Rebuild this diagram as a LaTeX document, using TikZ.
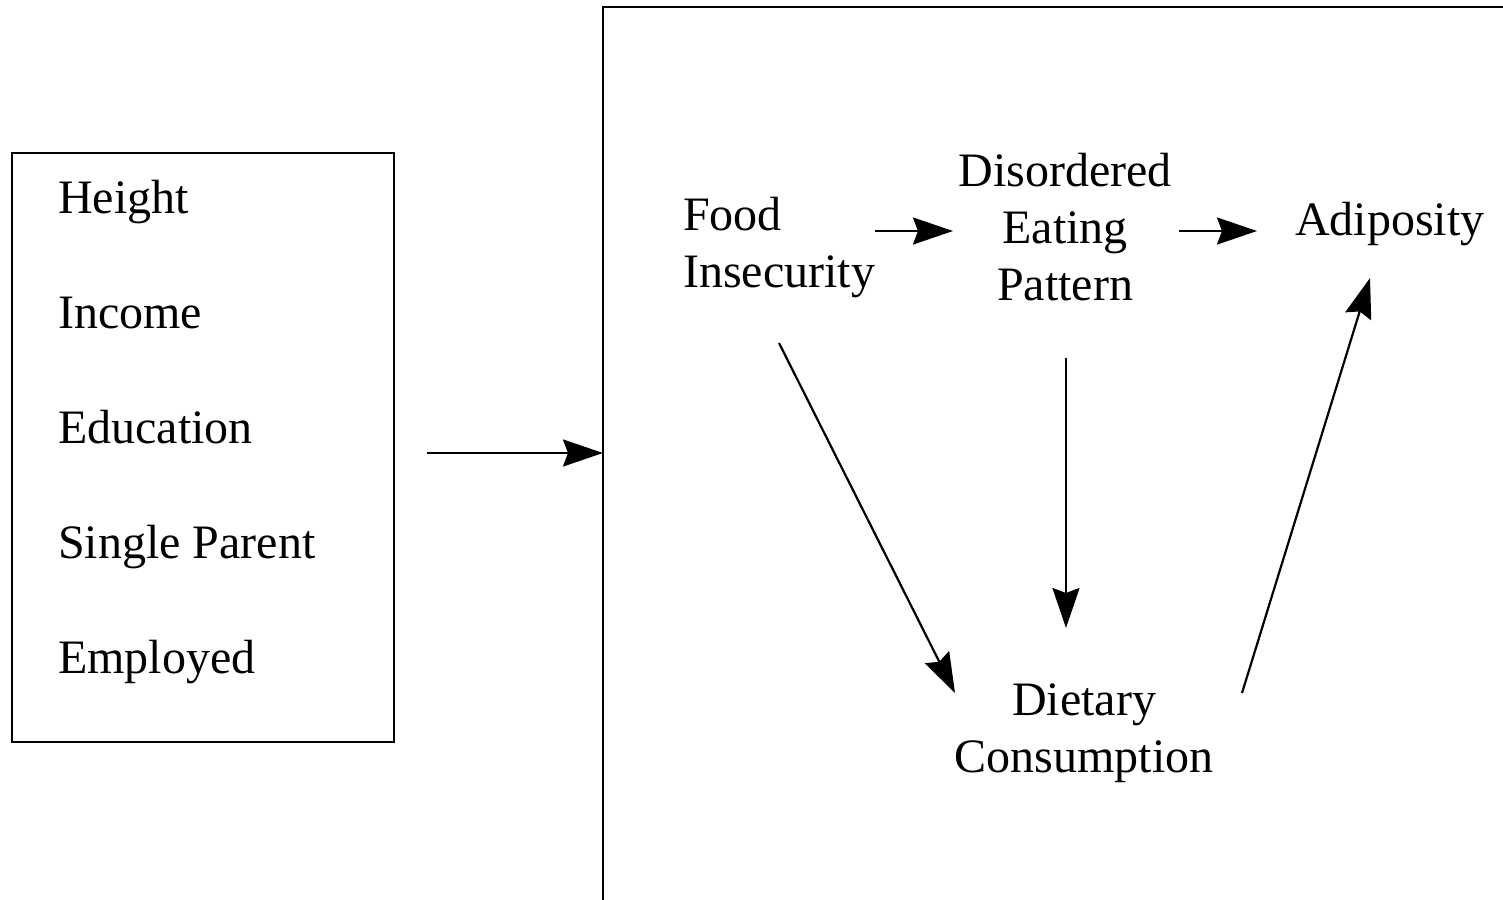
\documentclass[tikz,border=0pt]{standalone}
\usepackage{fontspec}
\setmainfont{Liberation Serif}
\usetikzlibrary{arrows.meta}
\begin{document}
\begin{tikzpicture}[x=1pt,y=-1pt,
  lbl/.style={inner sep=0pt,font=\fontsize{48}{57}\selectfont},
  multi/.style={lbl,align=center},
  arr/.style={line width=2.2pt,-{Stealth[length=40pt,width=27pt,inset=5pt]}},
  frame/.style={line width=2.2pt}]
\useasboundingbox (0,0) rectangle (1503,899);
% left box
\node[frame,draw,minimum width=382pt,minimum height=589pt,anchor=north west,inner sep=0pt] (lbox) at (11,152) {};
\node[lbl,anchor=base west] (h) at (58,213) {Height};
\node[lbl,anchor=base west] (i) at (58,328) {Income};
\node[lbl,anchor=base west] (e) at (58,443) {Education};
\node[lbl,anchor=base west] (s) at (58,558) {Single Parent};
\node[lbl,anchor=base west] (m) at (58,673) {Employed};
% right open box
\draw[frame] (1510,7) -- (603,7) -- (603,905);
\coordinate (rb) at (603,453);
\coordinate (la) at (427,453);
\draw[arr] (la) -- (rb);
% nodes (base anchor = baseline of last line)
\node[multi,align=left,anchor=base west] (food) at (683,287) {Food\\Insecurity};
\node[multi,anchor=base] (dep) at (1065,300) {Disordered\\Eating\\Pattern};
\node[lbl,anchor=base west] (adip) at (1295,235) {Adiposity};
\node[multi,anchor=base] (diet) at (1084,772) {Dietary\\Consumption};
% connector ends
\coordinate (f1) at (875,231);
\coordinate (d1) at (953,231);
\coordinate (d2) at (1179,231);
\coordinate (a1) at (1257,231);
\coordinate (d3) at (1066,358);
\coordinate (t1) at (1066,628);
\coordinate (f2) at (779,343);
\coordinate (t2) at (955,693);
\coordinate (t3) at (1242,693);
\coordinate (a2) at (1370,278);
\draw[arr] (f1) -- (d1);
\draw[arr] (d2) -- (a1);
\draw[arr] (d3) -- (t1);
\draw[arr] (f2) -- (t2);
\draw[arr] (t3) -- (a2);
\end{tikzpicture}
\end{document}
